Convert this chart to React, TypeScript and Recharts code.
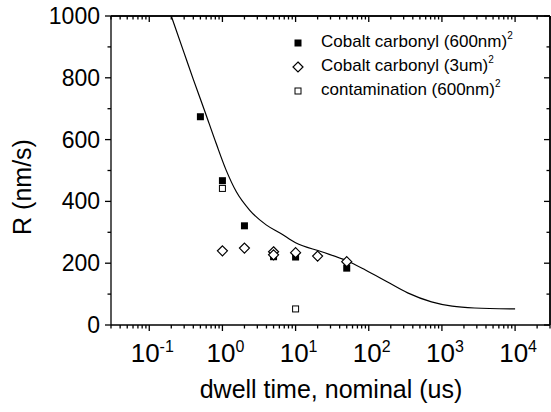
import React from "react";
import { ComposedChart, Line, Scatter, XAxis, YAxis, ReferenceLine } from "recharts";

const FONT = "'Liberation Sans', Arial, Helvetica, sans-serif";

// Cobalt carbonyl (600nm)^2 - filled squares
const cobalt600Time = [0.5, 1, 2, 5, 10, 50];
const cobalt600Rate = [674, 467, 321, 221, 220, 184];

// Cobalt carbonyl (3um)^2 - open diamonds
const cobalt3umTime = [1, 2, 5, 5, 10, 20, 50];
const cobalt3umRate = [240, 249, 237, 227, 234, 223, 205];

// contamination (600nm)^2 - open squares
const contamTime = [1, 10];
const contamRate = [442, 52];

// model curve
const modelTime = [0.2, 0.3, 0.4, 0.566, 0.82, 1.12, 1.55, 2.35, 3.96, 6.2, 10, 22.7, 50, 90, 178, 340, 720, 1380, 2800, 10000];
const modelRate = [1000, 880, 795, 696, 588, 502, 431, 372, 324, 297, 266, 237, 208, 178, 140, 104, 75, 61, 55, 52];

// axis ticks
const xTicks = [
  0.03, 0.04, 0.05, 0.06, 0.07, 0.08, 0.09,
  0.1, 0.2, 0.3, 0.4, 0.5, 0.6, 0.7, 0.8, 0.9,
  1, 2, 3, 4, 5, 6, 7, 8, 9,
  10, 20, 30, 40, 50, 60, 70, 80, 90,
  100, 200, 300, 400, 500, 600, 700, 800, 900,
  1000, 2000, 3000, 4000, 5000, 6000, 7000, 8000, 9000,
  10000, 20000, 30000,
];
const yTicks = [0, 100, 200, 300, 400, 500, 600, 700, 800, 900, 1000];
const yLabels = [0, 200, 400, 600, 800, 1000];

const zip = (xs: number[], ys: number[]) => xs.map((t, i) => ({ time: t, rate: ys[i] }));

const cobalt600 = zip(cobalt600Time, cobalt600Rate);
const cobalt3um = zip(cobalt3umTime, cobalt3umRate);
const contam = zip(contamTime, contamRate);
const model = zip(modelTime, modelRate);

const isDecade = (v: number) => {
  const l = Math.log10(v);
  return Math.abs(l - Math.round(l)) < 1e-6;
};

const renderBottomTick = (props: any) => {
  const { x, y, payload } = props;
  const major = isDecade(payload.value);
  const exp = Math.round(Math.log10(payload.value));
  return (
    <g>
      <path d={`M${x},${y}V${y + (major ? 6 : 3.5)}`} stroke="#000" strokeWidth={1.3} fill="none" />
      {major && (
        <text x={x + 3} y={y + 37} textAnchor="middle" fontSize={26} fontFamily={FONT} fill="#000">
          <tspan>10</tspan>
          <tspan dy={-10} fontSize={16}>{exp}</tspan>
        </text>
      )}
    </g>
  );
};

const renderTopTick = (props: any) => {
  const { x, y, payload } = props;
  const major = isDecade(payload.value);
  return (
    <g>
      <path d={`M${x},${y}V${y + (major ? 6 : 3.5)}`} stroke="#000" strokeWidth={1.3} fill="none" />
    </g>
  );
};

const renderLeftTick = (props: any) => {
  const { x, y, payload } = props;
  const major = yLabels.includes(payload.value);
  return (
    <g>
      <path d={`M${x - (major ? 6 : 3.5)},${y}H${x}`} stroke="#000" strokeWidth={1.3} fill="none" />
      {major && (
        <text x={x - 11} y={y + 8} textAnchor="end" fontSize={23} fontFamily={FONT} fill="#000">
          {payload.value}
        </text>
      )}
    </g>
  );
};

const renderRightTick = (props: any) => {
  const { x, y, payload } = props;
  const major = yLabels.includes(payload.value);
  return (
    <g>
      <path d={`M${x - (major ? 6 : 3.5)},${y}H${x}`} stroke="#000" strokeWidth={1.3} fill="none" />
    </g>
  );
};

const FilledSquare = (p: any) => <rect x={p.cx - 3.5} y={p.cy - 3.5} width={7} height={7} fill="#000" />;
const OpenSquare = (p: any) => (
  <rect x={p.cx - 3} y={p.cy - 3} width={6} height={6} fill="#fff" stroke="#000" strokeWidth={1} />
);
const Diamond = (p: any) => (
  <polygon
    points={`${p.cx},${p.cy - 5} ${p.cx + 5},${p.cy} ${p.cx},${p.cy + 5} ${p.cx - 5},${p.cy}`}
    fill="#fff"
    stroke="#000"
    strokeWidth={1.2}
  />
);

const legendRows = [
  { label: "Cobalt carbonyl (600nm)", kind: "filled", top: 43 },
  { label: "Cobalt carbonyl (3um)", kind: "diamond", top: 67 },
  { label: "contamination (600nm)", kind: "open", top: 91 },
];

const LegendMarker = ({ kind }: { kind: string }) => (
  <svg width={16} height={16} style={{ position: "absolute", left: 290, top: -8 }}>
    {kind === "filled" && <rect x={4.5} y={4.5} width={7} height={7} fill="#000" />}
    {kind === "open" && <rect x={5} y={5} width={6} height={6} fill="#fff" stroke="#000" strokeWidth={1} />}
    {kind === "diamond" && <polygon points="8,3 13,8 8,13 3,8" fill="#fff" stroke="#000" strokeWidth={1.2} />}
  </svg>
);

export default function App() {
  return (
    <div
      style={{
        position: "absolute",
        left: 0,
        top: 0,
        width: 551,
        height: 412,
        overflow: "hidden",
        background: "#fff",
        fontFamily: FONT,
      }}
    >
      {/* chart is 20px wider than the page so the right mirror axis sits at x=550 */}
      <ComposedChart width={570} height={412} margin={{ top: 0, right: 0, bottom: 0, left: 0 }}>
        <XAxis
          dataKey="time"
          type="number"
          scale="log"
          domain={[0.03, 30000]}
          allowDataOverflow
          ticks={xTicks}
          interval={0}
          height={87}
          tickSize={0}
          tickMargin={0}
          tickLine={false}
          tick={renderBottomTick}
          axisLine={{ stroke: "#000", strokeWidth: 1.3 }}
        />
        <XAxis
          xAxisId="top"
          orientation="top"
          dataKey="time"
          type="number"
          scale="log"
          domain={[0.03, 30000]}
          allowDataOverflow
          ticks={xTicks}
          interval={0}
          height={16}
          tickSize={0}
          tickMargin={0}
          tickLine={false}
          tick={renderTopTick}
          axisLine={{ stroke: "#000", strokeWidth: 1.3 }}
        />
        <YAxis
          type="number"
          domain={[0, 1000]}
          ticks={yTicks}
          interval={0}
          width={111}
          tickSize={0}
          tickMargin={0}
          tickLine={false}
          tick={renderLeftTick}
          axisLine={{ stroke: "#000", strokeWidth: 1.3 }}
        />
        <YAxis
          yAxisId="right"
          orientation="right"
          type="number"
          domain={[0, 1000]}
          ticks={yTicks}
          interval={0}
          width={20}
          tickSize={0}
          tickMargin={0}
          tickLine={false}
          tick={renderRightTick}
          axisLine={{ stroke: "#000", strokeWidth: 1.3 }}
        />
        {/* closing frame of the plot box */}
        <ReferenceLine y={1000} stroke="#000" strokeWidth={1.5} ifOverflow="visible" />
        <ReferenceLine x={30000} stroke="#000" strokeWidth={1.5} ifOverflow="visible" />
        <Line
          data={model}
          dataKey="rate"
          type="monotone"
          dot={false}
          stroke="#000"
          strokeWidth={1.2}
          isAnimationActive={false}
        />
        <Scatter data={cobalt600} dataKey="rate" shape={<FilledSquare />} isAnimationActive={false} />
        <Scatter data={cobalt3um} dataKey="rate" shape={<Diamond />} isAnimationActive={false} />
        <Scatter data={contam} dataKey="rate" shape={<OpenSquare />} isAnimationActive={false} />
        {/* invisible series so the mirrored top/right axes get drawn */}
        <Scatter data={cobalt600} dataKey="rate" xAxisId="top" fill="none" isAnimationActive={false} />
        <Scatter data={cobalt600} dataKey="rate" yAxisId="right" fill="none" isAnimationActive={false} />
      </ComposedChart>
      <svg
        width={551}
        height={412}
        style={{ position: "absolute", left: 0, top: 0, pointerEvents: "none" }}
      >
        <text x={331} y={398} textAnchor="middle" fontSize={25} fontFamily={FONT} fill="#000">
          dwell time, nominal (us)
        </text>
        <text
          x={31}
          y={187}
          transform="rotate(-90 31 187)"
          textAnchor="middle"
          fontSize={25}
          fontFamily={FONT}
          fill="#000"
        >
          R (nm/s)
        </text>
      </svg>
      {legendRows.map((r) => (
        <div key={r.label} style={{ position: "absolute", left: 0, top: r.top, width: 551, height: 0 }}>
          <LegendMarker kind={r.kind} />
          <span
            style={{
              position: "absolute",
              left: 321,
              top: -11,
              fontSize: 17,
              lineHeight: "20px",
              whiteSpace: "nowrap",
              color: "#000",
            }}
          >
            {r.label}
            <span style={{ fontSize: 10, position: "relative", top: -8 }}>2</span>
          </span>
        </div>
      ))}
    </div>
  );
}
